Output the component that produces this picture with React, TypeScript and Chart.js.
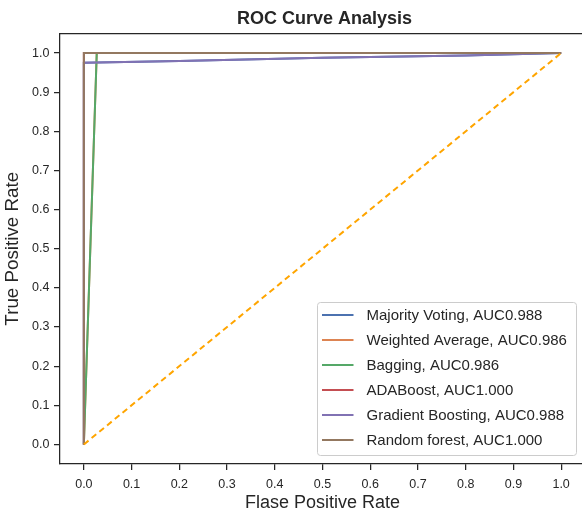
import React, { useEffect, useRef } from "react";
import { Chart, registerables } from "chart.js";

Chart.register(...registerables);

const FONT = "'Liberation Sans', Arial, Helvetica, sans-serif";
const INK = "#262626";

const chartTitle = "ROC Curve Analysis";
const xAxisTitle = "Flase Positive Rate";
const yAxisTitle = "True Positive Rate";

const seriesLabels = [
  "Majority Voting, AUC0.988",
  "Weighted Average, AUC0.986",
  "Bagging, AUC0.986",
  "ADABoost, AUC1.000",
  "Gradient Boosting, AUC0.988",
  "Random forest, AUC1.000",
];
const seriesColors = ["#4C72B0", "#DD8452", "#55A868", "#C44E52", "#8172B3", "#937860"];

const fprMajority = [0, 0, 0.2, 0.5, 0.8, 1];
const tprMajority = [0, 0.975, 0.98, 0.988, 0.994, 1];
const fprWeighted = [0, 0.027, 1];
const tprWeighted = [0, 1, 1];
const fprBagging = [0, 0.027, 1];
const tprBagging = [0, 1, 1];
const fprAda = [0, 0, 1];
const tprAda = [0, 1, 1];
const fprGradient = [0, 0, 0.2, 0.5, 0.8, 1];
const tprGradient = [0, 0.975, 0.98, 0.988, 0.994, 1];
const fprForest = [0, 0, 1];
const tprForest = [0, 1, 1];
const fprChance = [0, 1];
const tprChance = [0, 1];

const xTicks = [0, 0.1, 0.2, 0.3, 0.4, 0.5, 0.6, 0.7, 0.8, 0.9, 1.0];
const yTicks = [0, 0.1, 0.2, 0.3, 0.4, 0.5, 0.6, 0.7, 0.8, 0.9, 1.0];

const seriesFpr = [fprMajority, fprWeighted, fprBagging, fprAda, fprGradient, fprForest];
const seriesTpr = [tprMajority, tprWeighted, tprBagging, tprAda, tprGradient, tprForest];

const toPoints = (xs: number[], ys: number[]) => xs.map((x, i) => ({ x, y: ys[i] }));

const framePlugin = {
  id: "frame",
  afterDraw(chart: any) {
    const { ctx, chartArea } = chart;
    const { left, right, top, bottom } = chartArea;
    ctx.save();
    // top & right spines
    ctx.strokeStyle = INK;
    ctx.lineWidth = 1.25;
    ctx.beginPath();
    ctx.moveTo(left, top);
    ctx.lineTo(right, top);
    ctx.lineTo(right, bottom);
    ctx.stroke();

    // title
    ctx.fillStyle = INK;
    ctx.font = `bold 18px ${FONT}`;
    ctx.textAlign = "center";
    ctx.textBaseline = "alphabetic";
    ctx.fillText(chartTitle, (left + right) / 2 + 2, 23.5);

    // legend
    const boxW = 259;
    const boxH = 153;
    const bx = right - 8.5 - boxW;
    const by = bottom - 8.5 - boxH;
    ctx.beginPath();
    if (ctx.roundRect) ctx.roundRect(bx, by, boxW, boxH, 3);
    else ctx.rect(bx, by, boxW, boxH);
    ctx.fillStyle = "rgba(255,255,255,0.8)";
    ctx.fill();
    ctx.strokeStyle = "#cccccc";
    ctx.lineWidth = 1;
    ctx.stroke();

    ctx.font = `15px ${FONT}`;
    ctx.textAlign = "left";
    ctx.textBaseline = "middle";
    const items = chart.data.datasets.filter((d: any) => d.label);
    items.forEach((d: any, i: number) => {
      const cy = by + 12.5 + i * 25;
      ctx.strokeStyle = d.borderColor;
      ctx.lineWidth = 2;
      ctx.beginPath();
      ctx.moveTo(bx + 4.5, cy);
      ctx.lineTo(bx + 36, cy);
      ctx.stroke();
      ctx.fillStyle = INK;
      ctx.fillText(d.label, bx + 49, cy + 0.5);
    });
    ctx.restore();
  },
};

export default function App() {
  const ref = useRef<HTMLCanvasElement | null>(null);

  useEffect(() => {
    if (!ref.current) return;
    const datasets: any[] = seriesLabels.map((label, i) => ({
      label,
      data: toPoints(seriesFpr[i], seriesTpr[i]),
      borderColor: seriesColors[i],
      backgroundColor: seriesColors[i],
      borderWidth: 2,
      pointRadius: 0,
      tension: 0,
      fill: false,
      order: seriesLabels.length - i,
    }));
    datasets.push({
      label: "",
      data: toPoints(fprChance, tprChance),
      borderColor: "#FFA500",
      backgroundColor: "#FFA500",
      borderWidth: 2,
      borderDash: [6, 4],
      pointRadius: 0,
      tension: 0,
      fill: false,
      order: -1,
    });

    const tickFont = { family: FONT, size: 12.5 };

    const chart = new Chart(ref.current, {
      type: "line",
      data: { datasets },
      options: {
        responsive: false,
        animation: false,
        layout: { padding: { top: 33.5, right: 15, left: 0, bottom: 0 } },
        plugins: {
          legend: { display: false },
          title: { display: false },
          tooltip: { enabled: false },
        },
        scales: {
          x: {
            type: "linear",
            min: -0.05,
            max: 1.05,
            afterBuildTicks: (s: any) => {
              s.ticks = xTicks.map((v) => ({ value: v }));
            },
            afterFit: (s: any) => {
              s.height = 48;
            },
            ticks: {
              callback: (v: any) => Number(v).toFixed(1),
              font: tickFont,
              color: INK,
              padding: 7,
              maxRotation: 0,
              autoSkip: false,
            },
            grid: {
              drawOnChartArea: false,
              drawTicks: true,
              tickLength: 6,
              color: INK,
              lineWidth: 1.25,
            },
            border: { display: true, color: INK, width: 1.25 },
            title: {
              display: true,
              text: xAxisTitle,
              font: { family: FONT, size: 18, lineHeight: 1 },
              color: INK,
              padding: { top: 0, bottom: 0 },
            },
          },
          y: {
            type: "linear",
            min: -0.05,
            max: 1.05,
            afterBuildTicks: (s: any) => {
              s.ticks = yTicks.map((v) => ({ value: v }));
            },
            afterFit: (s: any) => {
              s.width = 60;
            },
            ticks: {
              callback: (v: any) => Number(v).toFixed(1),
              font: tickFont,
              color: INK,
              padding: 4.5,
              autoSkip: false,
            },
            grid: {
              drawOnChartArea: false,
              drawTicks: true,
              tickLength: 6,
              color: INK,
              lineWidth: 1.25,
            },
            border: { display: true, color: INK, width: 1.25 },
            title: {
              display: true,
              text: yAxisTitle,
              font: { family: FONT, size: 18.8, lineHeight: 1 },
              color: INK,
              padding: { top: 3.5, bottom: 0 },
            },
          },
        },
      } as any,
      plugins: [framePlugin],
    });
    return () => chart.destroy();
  }, []);

  return (
    <div
      style={{
        position: "absolute",
        left: 0,
        top: 0,
        width: 582,
        height: 512,
        overflow: "hidden",
        background: "#ffffff",
      }}
    >
      <canvas ref={ref} width={600} height={512} style={{ display: "block", width: 600, height: 512 }} />
    </div>
  );
}
